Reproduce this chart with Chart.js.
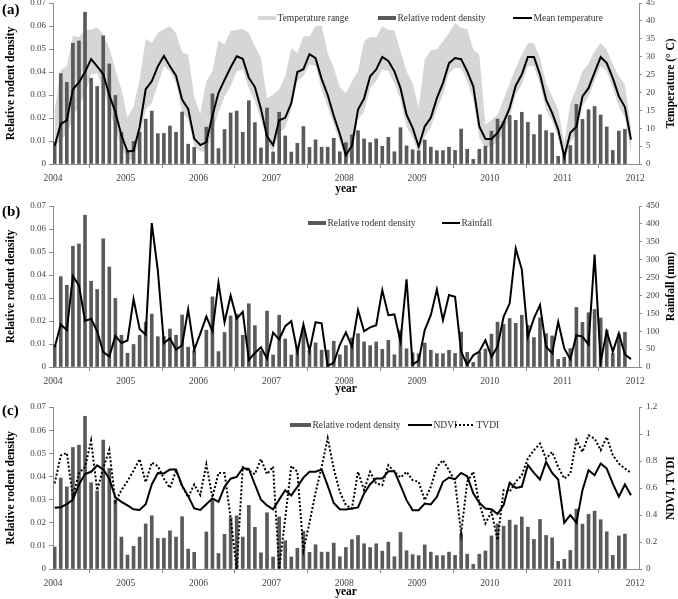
<!DOCTYPE html>
<html>
<head>
<meta charset="utf-8">
<script src="https://cdn.jsdelivr.net/npm/chart.js@4.4.1/dist/chart.umd.min.js"></script>
<style>
  html, body { margin: 0; padding: 0; background: #fff; }
  #wrap { position: relative; width: 678px; height: 599px; }
  #wrap canvas { position: absolute; left: 0; }
</style>
</head>
<body>
<div id="wrap">
  <canvas id="chartA" width="678" height="200" style="top:0"></canvas>
  <canvas id="chartB" width="678" height="200" style="top:200px"></canvas>
  <canvas id="chartC" width="678" height="199" style="top:400px"></canvas>
</div>
<script>
// monthly series, Jan 2004 .. Dec 2011
const years = [2004, 2005, 2006, 2007, 2008, 2009, 2010, 2011]
const yearTicks = [2004, 2005, 2006, 2007, 2008, 2009, 2010, 2011, 2012]

const rodentDensity = [
  0.0095, 0.0393, 0.0355, 0.0525, 0.0535, 0.066, 0.0373, 0.0337, 0.0557, 0.0435, 0.0298, 0.0138,
  0.006, 0.0098, 0.0138, 0.0195, 0.023, 0.0132, 0.0133, 0.0165, 0.0138, 0.0226, 0.0086, 0.0072,
  null, 0.016, 0.0305, 0.0067, 0.015, 0.0222, 0.023, 0.0138, 0.0275, 0.018, 0.007, 0.0243,
  0.0052, 0.0225, 0.0122, 0.0052, 0.009, 0.0163, 0.0072, 0.0105, 0.0073, 0.0073, 0.0112, 0.0053,
  0.0093, 0.0127, 0.0145, 0.0109, 0.0093, 0.0109, 0.0077, 0.0116, 0.0053, 0.0158, 0.0079, 0.0062,
  0.0058, 0.0104, 0.0073, 0.0058, 0.0058, 0.0073, 0.0059, 0.0152, 0.0064, 0.002, 0.0064, 0.0078,
  0.0143, 0.0195, 0.0185, 0.0211, 0.019, 0.0225, 0.0181, 0.0128, 0.0214, 0.0145, 0.0135, 0.0033,
  0.0042, 0.008, 0.0259, 0.0194, 0.0236, 0.025, 0.0213, 0.0161, 0.0059, 0.0143, 0.0151, null
]

const tempMean = [
  5.1, 11.2, 12.2, 20.9, 22.8, 25.7, 29.3, 27.3, 25.1, 19.3, 14.5, 8.0,
  3.5, 3.7, 10.3, 20.9, 23.1, 27.3, 30.2, 27.3, 24.7, 18.0, 15.4, 7.1,
  5.3, 6.1, 13.5, 19.9, 23.5, 27.0, 30.1, 29.4, 24.1, 21.5, 15.4, 7.7,
  5.3, 12.2, 12.9, 17.0, 25.7, 26.5, 30.7, 29.6, 23.8, 19.3, 13.5, 8.4,
  2.5, 5.1, 15.2, 18.3, 24.5, 26.4, 29.9, 28.8, 25.9, 21.2, 13.8, 10.1,
  4.9, 10.5, 12.9, 18.4, 22.6, 28.2, 29.6, 29.3, 25.9, 21.7, 10.5, 7.0,
  7.0, 8.7, 11.6, 15.7, 21.9, 25.0, 29.9, 29.9, 25.0, 18.0, 14.3, 9.6,
  2.0, 8.7, 10.4, 18.9, 21.2, 25.6, 29.9, 28.2, 24.0, 18.9, 15.9, 6.8
]

const tempMax = [
  15.0, 26.2, 27.3, 35.9, 35.4, 37.5, 37.5, 38.3, 36.1, 32.4, 26.4, 20.8,
  12.9, 16.1, 23.6, 35.0, 33.8, 36.6, 37.7, 38.5, 36.6, 31.2, 30.6, 18.9,
  14.0, 23.1, 25.9, 34.6, 33.4, 37.1, 37.5, 37.7, 36.6, 32.9, 29.6, 18.4,
  19.4, 20.8, 24.5, 32.4, 31.0, 35.7, 35.7, 38.5, 38.7, 31.0, 27.0, 21.5,
  19.8, 23.1, 25.9, 34.3, 35.5, 35.4, 38.5, 37.5, 37.4, 31.5, 25.9, 22.6,
  15.7, 29.2, 31.8, 32.1, 34.3, 36.6, 39.4, 38.0, 37.7, 32.0, 30.6, 11.0,
  12.2, 13.8, 18.0, 22.6, 26.8, 30.6, 33.8, 33.8, 29.6, 22.6, 18.9, 15.2,
  5.9, 17.0, 21.2, 25.9, 28.0, 31.5, 33.8, 31.9, 27.8, 24.5, 22.2, 10.5
]

const tempMin = [
  4.5, 6.8, 8.2, 12.9, 16.6, 19.4, 25.0, 25.4, 21.2, 15.2, 9.6, 4.9,
  1.2, 1.4, 6.8, 15.2, 17.0, 22.2, 27.3, 25.9, 22.6, 14.7, 12.4, 4.9,
  3.5, 3.5, 9.1, 14.3, 18.9, 21.7, 25.9, 26.4, 21.2, 17.5, 12.4, 6.3,
  3.1, 8.7, 10.1, 15.2, 23.1, 24.5, 27.8, 27.3, 20.8, 16.1, 11.0, 6.3,
  0.7, 2.6, 12.4, 14.7, 21.2, 23.1, 26.4, 25.9, 22.6, 18.0, 10.5, 7.3,
  2.6, 7.7, 10.1, 15.2, 19.4, 25.4, 26.8, 26.8, 23.1, 18.0, 7.3, 4.5,
  4.9, 6.3, 9.1, 12.9, 19.4, 22.2, 27.3, 27.3, 22.2, 15.2, 11.9, 7.3,
  0.7, 5.9, 8.7, 16.1, 18.9, 23.1, 27.3, 25.9, 21.2, 16.1, 12.9, 3.1
]

const rainfall = [
  55, 119, 103, 254, 228, 129, 135, 100, 42, 29, 87, 67,
  74, 190, 106, 90, 402, 270, 67, 80, 48, 61, 161, 48,
  93, 141, 100, 235, 125, 200, 135, 154, 20, 39, 55, 24,
  96, 77, 114, 128, 42, 119, 45, 125, 122, 3, 12, 62,
  97, 57, 159, 100, 111, 117, 215, 145, 147, 71, 245, 7,
  18, 103, 145, 217, 131, 201, 196, 43, 6, 33, 43, 75,
  29, 57, 140, 178, 331, 273, 85, 136, 173, 57, 38, 126,
  52, 22, 89, 85, 63, 314, 15, 99, 43, 94, 35, 22
]

const ndvi = [
  0.454, 0.458, 0.48, 0.514, 0.626, 0.703, 0.72, 0.768, 0.737, 0.669, 0.531, 0.497,
  0.471, 0.442, 0.437, 0.48, 0.626, 0.711, 0.708, 0.737, 0.737, 0.617, 0.54, 0.449,
  0.437, 0.48, 0.523, 0.497, 0.609, 0.669, 0.682, 0.746, 0.741, 0.626, 0.514, 0.471,
  0.442, 0.514, 0.583, 0.545, 0.609, 0.677, 0.72, 0.72, 0.737, 0.617, 0.489, 0.443,
  0.441, 0.448, 0.456, 0.56, 0.628, 0.67, 0.67, 0.724, 0.724, 0.62, 0.51, 0.436,
  0.436, 0.485, 0.478, 0.535, 0.646, 0.678, 0.665, 0.712, 0.687, 0.56, 0.49, 0.448,
  0.443, 0.407, 0.473, 0.638, 0.601, 0.609, 0.769, 0.712, 0.663, 0.793, 0.712, 0.663,
  0.343, 0.399, 0.343, 0.584, 0.732, 0.695, 0.781, 0.744, 0.633, 0.535, 0.626, 0.547
]

const tvdi = [
  0.634, 0.84, 0.86, 0.53, 0.711, 0.754, 0.951, 0.583, 0.746, 0.883, 0.497, 0.583,
  0.651, 0.728, 0.814, 0.643, 0.789, 0.763, 0.669, 0.6, 0.729, 0.617, 0.531, 0.626,
  0.549, 0.775, 0.531, 0.711, 0.711, 0.377, 0.0, 0.754, 0.729, 0.703, 0.814, 0.703,
  0.758, 0.0, 0.377, 0.763, 0.72, 0.137, 0.343, 0.566, 0.754, 0.969, 0.744, 0.572,
  0.473, 0.448, 0.72, 0.584, 0.72, 0.633, 0.621, 0.769, 0.72, 0.678, 0.72, 0.658,
  0.646, 0.51, 0.609, 0.756, 0.806, 0.732, 0.646, 0.264, 0.646, 0.72, 0.485, 0.338,
  0.424, 0.214, 0.584, 0.572, 0.646, 0.695, 0.818, 0.88, 0.929, 0.818, 0.867, 0.756,
  0.67, 0.707, 0.954, 0.867, 0.99, 0.966, 0.88, 0.978, 0.843, 0.781, 0.744, 0.712
]

const SERIF = "'Liberation Serif', 'Times New Roman', serif"
const AXIS_GREY = "#8c8c8c"
const TICK_TEXT = "#444"
const BAR_GREY = "#5a5a5a"
const AREA_GREY = "#d6d6d6"

// each month sits a little after the start of its month on the date axis
const monthX = years.flatMap(y => Array.from({ length: 12 }, (_, m) => y + (m + 0.28) / 12))
const pts = arr => arr.map((v, i) => ({ x: monthX[i], y: v }))

// draws panel letter, right axis title and the in-plot legend
const panelDecor = {
  id: "panelDecor",
  afterDraw(chart, args, opts) {
    const { ctx, chartArea } = chart
    ctx.save()
    ctx.fillStyle = "#000"
    ctx.textBaseline = "middle"
    ctx.font = `bold 15px ${SERIF}`
    ctx.fillText(opts.label, 2, opts.labelY)

    ctx.save()
    ctx.font = `bold 11.5px ${SERIF}`
    ctx.textAlign = "center"
    ctx.translate(opts.rightTitleX, (chartArea.top + chartArea.bottom) / 2)
    ctx.rotate(-Math.PI / 2)
    ctx.fillText(opts.rightTitle, 0, 0)
    ctx.restore()

    ctx.font = `9.5px ${SERIF}`
    opts.legend.forEach(it => {
      if (it.kind === "box") {
        ctx.fillStyle = it.color
        ctx.fillRect(it.x, opts.legendY - 2, it.w, 4)
      } else {
        ctx.strokeStyle = "#000"
        ctx.lineWidth = 2
        ctx.setLineDash(it.dash || [])
        ctx.beginPath()
        ctx.moveTo(it.x, opts.legendY)
        ctx.lineTo(it.x + it.w, opts.legendY)
        ctx.stroke()
        ctx.setLineDash([])
      }
      ctx.fillStyle = "#333"
      ctx.fillText(it.text, it.x + it.w + 1.5, opts.legendY)
    })
    ctx.restore()
  }
}

function xScale(height, titlePad) {
  return {
    type: "linear",
    min: 2004,
    max: 2012.05,
    offset: false,
    afterBuildTicks: s => { s.ticks = yearTicks.map(v => ({ value: v })) },
    ticks: {
      autoSkip: false, maxRotation: 0, padding: 5, color: TICK_TEXT,
      font: { family: SERIF, size: 9.5 },
      callback: v => String(v)
    },
    grid: { display: true, drawOnChartArea: false, drawTicks: true, tickLength: 4, color: AXIS_GREY },
    border: { color: AXIS_GREY },
    title: {
      display: true, text: "year", color: "#000",
      font: { family: SERIF, size: 11.5, weight: "bold" },
      padding: { top: 0, bottom: titlePad }
    },
    afterFit: s => { s.height = height; s.paddingLeft = 0; s.paddingRight = 0 }
  }
}

function leftScale() {
  return {
    position: "left",
    min: 0,
    max: 0.07,
    ticks: {
      stepSize: 0.01, padding: 3, color: TICK_TEXT,
      font: { family: SERIF, size: 9 },
      callback: v => String(+v.toFixed(2))
    },
    grid: { drawOnChartArea: false, tickLength: 4, color: AXIS_GREY },
    border: { color: AXIS_GREY },
    title: {
      display: true, text: "Relative rodent density", color: "#000",
      font: { family: SERIF, size: 11.5, weight: "bold" },
      padding: { top: 4, bottom: 0 }
    },
    afterFit: s => { s.width = 53; s.paddingTop = 0; s.paddingBottom = 0 }
  }
}

function rightScale(max, step, decimals) {
  return {
    position: "right",
    min: 0,
    max: max,
    ticks: {
      stepSize: step, padding: 4, color: TICK_TEXT,
      font: { family: SERIF, size: 9 },
      callback: v => String(+v.toFixed(decimals))
    },
    grid: { drawOnChartArea: false, tickLength: 3, color: AXIS_GREY },
    border: { color: AXIS_GREY },
    afterFit: s => { s.width = 39; s.paddingTop = 0; s.paddingBottom = 0 }
  }
}

function baseOptions(top, decor) {
  return {
    responsive: false,
    animation: false,
    events: [],
    layout: { padding: { top: top, left: 0, right: 0, bottom: 0 } },
    plugins: {
      legend: { display: false },
      tooltip: { enabled: false },
      panelDecor: decor
    }
  }
}

const densityBars = () => ({
  type: "bar", label: "Relative rodent density", data: pts(rodentDensity), yAxisID: "y",
  backgroundColor: BAR_GREY, barThickness: 3, order: 1
})

// (a) temperature
new Chart(document.getElementById("chartA"), {
  type: "bar",
  data: {
    datasets: [
      {
        type: "line", label: "Mean temperature", data: pts(tempMean), yAxisID: "yR",
        borderColor: "#000", borderWidth: 2, pointRadius: 0, tension: 0, order: 0
      },
      densityBars(),
      {
        type: "line", label: "Temperature range", data: pts(tempMax), yAxisID: "yR",
        borderColor: "rgba(0,0,0,0)", borderWidth: 0, pointRadius: 0, tension: 0,
        backgroundColor: AREA_GREY, fill: "+1", order: 2
      },
      {
        type: "line", label: "Minimum temperature", data: pts(tempMin), yAxisID: "yR",
        borderColor: "rgba(0,0,0,0)", borderWidth: 0, pointRadius: 0, tension: 0,
        fill: false, order: 3
      }
    ]
  },
  options: {
    ...baseOptions(3, {
      label: "(a)", labelY: 10, rightTitle: "Temperature (° C)", rightTitleX: 671,
      legendY: 18,
      legend: [
        { kind: "box", color: AREA_GREY, x: 258, w: 18, text: "Temperature range" },
        { kind: "box", color: BAR_GREY, x: 378, w: 18, text: "Relative rodent density" },
        { kind: "line", x: 513, w: 19, text: "Mean temperature" }
      ]
    }),
    scales: { x: xScale(36, 4), y: leftScale(), yR: rightScale(45, 5, 0) }
  },
  plugins: [panelDecor]
})

// (b) rainfall
new Chart(document.getElementById("chartB"), {
  type: "bar",
  data: {
    datasets: [
      {
        type: "line", label: "Rainfall", data: pts(rainfall), yAxisID: "yR",
        borderColor: "#000", borderWidth: 2, pointRadius: 0, tension: 0, order: 0
      },
      densityBars()
    ]
  },
  options: {
    ...baseOptions(6, {
      label: "(b)", labelY: 12, rightTitle: "Rainfall (mm)", rightTitleX: 671,
      legendY: 23,
      legend: [
        { kind: "box", color: BAR_GREY, x: 308, w: 18, text: "Relative rodent density" },
        { kind: "line", x: 442, w: 18, text: "Rainfall" }
      ]
    }),
    scales: { x: xScale(33, 4), y: leftScale(), yR: rightScale(450, 50, 0) }
  },
  plugins: [panelDecor]
})

// (c) NDVI / TVDI
new Chart(document.getElementById("chartC"), {
  type: "bar",
  data: {
    datasets: [
      {
        type: "line", label: "NDVI", data: pts(ndvi), yAxisID: "yR",
        borderColor: "#000", borderWidth: 2, pointRadius: 0, tension: 0, order: 0
      },
      {
        type: "line", label: "TVDI", data: pts(tvdi), yAxisID: "yR",
        borderColor: "#000", borderWidth: 2, borderDash: [2, 2], pointRadius: 0, tension: 0, order: 0
      },
      densityBars()
    ]
  },
  options: {
    ...baseOptions(7, {
      label: "(c)", labelY: 11, rightTitle: "NDVI, TVDI", rightTitleX: 671,
      legendY: 25,
      legend: [
        { kind: "box", color: BAR_GREY, x: 290, w: 21, text: "Relative rodent density" },
        { kind: "line", x: 408, w: 24, text: "NDVI" },
        { kind: "line", x: 455, w: 20, dash: [2, 2], text: "TVDI" }
      ]
    }),
    scales: { x: xScale(30, 0), y: leftScale(), yR: rightScale(1.2, 0.2, 1) }
  },
  plugins: [panelDecor]
})
</script>
</body>
</html>
